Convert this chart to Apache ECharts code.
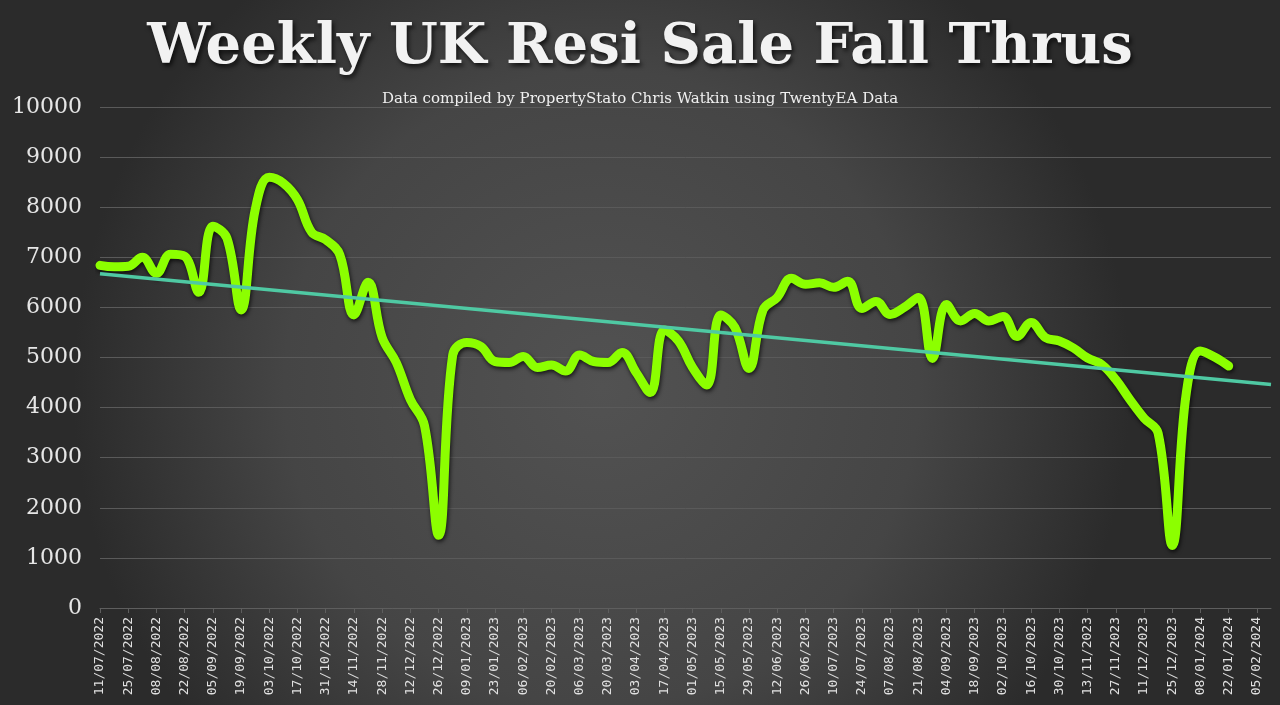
<!DOCTYPE html>
<html>
<head>
<meta charset="UTF-8">
<title>Weekly UK Resi Sale Fall Thrus</title>
<script src="https://cdn.jsdelivr.net/npm/echarts@6/dist/echarts.min.js"></script>
<style>
html, body { margin: 0; padding: 0; background: #333; }
#main { width: 1280px; height: 705px; }
</style>
</head>
<body>
<div id="main"></div>
<script>
// weekly dates (x axis), labels shown every second week
var weeks = [
  '11/07/2022','18/07/2022','25/07/2022','01/08/2022','08/08/2022','15/08/2022','22/08/2022','29/08/2022',
  '05/09/2022','12/09/2022','19/09/2022','26/09/2022','03/10/2022','10/10/2022','17/10/2022','24/10/2022',
  '31/10/2022','07/11/2022','14/11/2022','21/11/2022','28/11/2022','05/12/2022','12/12/2022','19/12/2022',
  '26/12/2022','02/01/2023','09/01/2023','16/01/2023','23/01/2023','30/01/2023','06/02/2023','13/02/2023',
  '20/02/2023','27/02/2023','06/03/2023','13/03/2023','20/03/2023','27/03/2023','03/04/2023','10/04/2023',
  '17/04/2023','24/04/2023','01/05/2023','08/05/2023','15/05/2023','22/05/2023','29/05/2023','05/06/2023',
  '12/06/2023','19/06/2023','26/06/2023','03/07/2023','10/07/2023','17/07/2023','24/07/2023','31/07/2023',
  '07/08/2023','14/08/2023','21/08/2023','28/08/2023','04/09/2023','11/09/2023','18/09/2023','25/09/2023',
  '02/10/2023','09/10/2023','16/10/2023','23/10/2023','30/10/2023','06/11/2023','13/11/2023','20/11/2023',
  '27/11/2023','04/12/2023','11/12/2023','18/12/2023','25/12/2023','01/01/2024','08/01/2024','15/01/2024',
  '22/01/2024','29/01/2024','05/02/2024','12/02/2024'
];

// fall thrus per week
var fallThrus = [
  6840, 6810, 6820, 7000, 6680, 7060, 7020, 6300, 7620, 7380,
  5950, 7950, 8600, 8480, 8150, 7500, 7350, 7050, 5850, 6500,
  5400, 4900, 4160, 3640, 1450, 5050, 5300, 5220, 4920, 4900,
  5020, 4800, 4850, 4730, 5050, 4920, 4900, 5100, 4700, 4300,
  5550, 5330, 4800, 4450, 5850, 5600, 4780, 5950, 6200, 6580,
  6460, 6490, 6400, 6520, 5980, 6120, 5860, 6000, 6200, 4980,
  6060, 5730, 5880, 5730, 5820, 5420, 5700, 5400, 5330, 5190,
  4990, 4860, 4560, 4160, 3790, 3490, 1250, 4300, 5130, 5010,
  4830
];

// linear trend, start and end values
var trendStart = 6670;
var trendEnd = 4460;

var yTicks = [0, 10000, 1000];

var chart = echarts.init(document.getElementById('main'));

chart.setOption({
  animation: false,
  backgroundColor: {
    type: 'radial', x: 0.47, y: 0.55, r: 0.75,
    colorStops: [
      {offset: 0, color: '#525252'},
      {offset: 0.6, color: '#454545'},
      {offset: 1, color: '#2b2b2b'}
    ]
  },
  title: [
    {
      text: 'Weekly UK Resi Sale Fall Thrus',
      left: 'center',
      top: 15,
      textStyle: {
        fontFamily: 'DejaVu Serif',
        fontWeight: 'bold',
        fontSize: 56,
        color: '#f2f2f2',
        textShadowColor: 'rgba(0,0,0,0.7)',
        textShadowBlur: 4,
        textShadowOffsetX: 2,
        textShadowOffsetY: 3
      }
    },
    {
      text: 'Data compiled by PropertyStato Chris Watkin using TwentyEA Data',
      left: 'center',
      top: 87,
      textStyle: {
        fontFamily: 'DejaVu Serif',
        fontWeight: 'normal',
        fontSize: 15,
        color: '#f0f0f0'
      }
    }
  ],
  grid: {left: 100, right: 9, top: 107, bottom: 97, containLabel: false},
  xAxis: {
    type: 'category',
    data: weeks,
    boundaryGap: false,
    axisLine: {lineStyle: {color: '#5e5e5e', width: 1}},
    axisTick: {show: true, interval: 1, length: 5, lineStyle: {color: '#5e5e5e'}},
    axisLabel: {
      interval: 1,
      rotate: 90,
      margin: 9,
      color: '#e0e0e0',
      fontFamily: 'DejaVu Sans Mono',
      fontSize: 13
    },
    splitLine: {show: false}
  },
  yAxis: {
    type: 'value',
    min: yTicks[0],
    max: yTicks[1],
    interval: yTicks[2],
    axisLine: {show: false},
    axisTick: {show: false},
    axisLabel: {
      margin: 18,
      color: '#e6e6e6',
      fontFamily: 'DejaVu Serif',
      fontSize: 22,
      formatter: function (v) { return String(v); }
    },
    splitLine: {lineStyle: {color: '#5a5a5a', width: 1}}
  },
  series: [
    {
      name: 'Fall Thrus',
      type: 'line',
      data: fallThrus,
      smooth: 0.4,
      symbol: 'none',
      lineStyle: {
        color: '#8cff00',
        width: 9,
        cap: 'round',
        join: 'round',
        shadowColor: 'rgba(0,0,0,0.75)',
        shadowBlur: 4,
        shadowOffsetX: 1,
        shadowOffsetY: 2
      },
      z: 3
    },
    {
      name: 'Trend',
      type: 'line',
      data: [[weeks[0], trendStart], [weeks[weeks.length - 1], trendEnd]],
      symbol: 'none',
      lineStyle: {color: '#4fc9a3', width: 3.5},
      z: 4
    }
  ]
});
</script>
</body>
</html>
